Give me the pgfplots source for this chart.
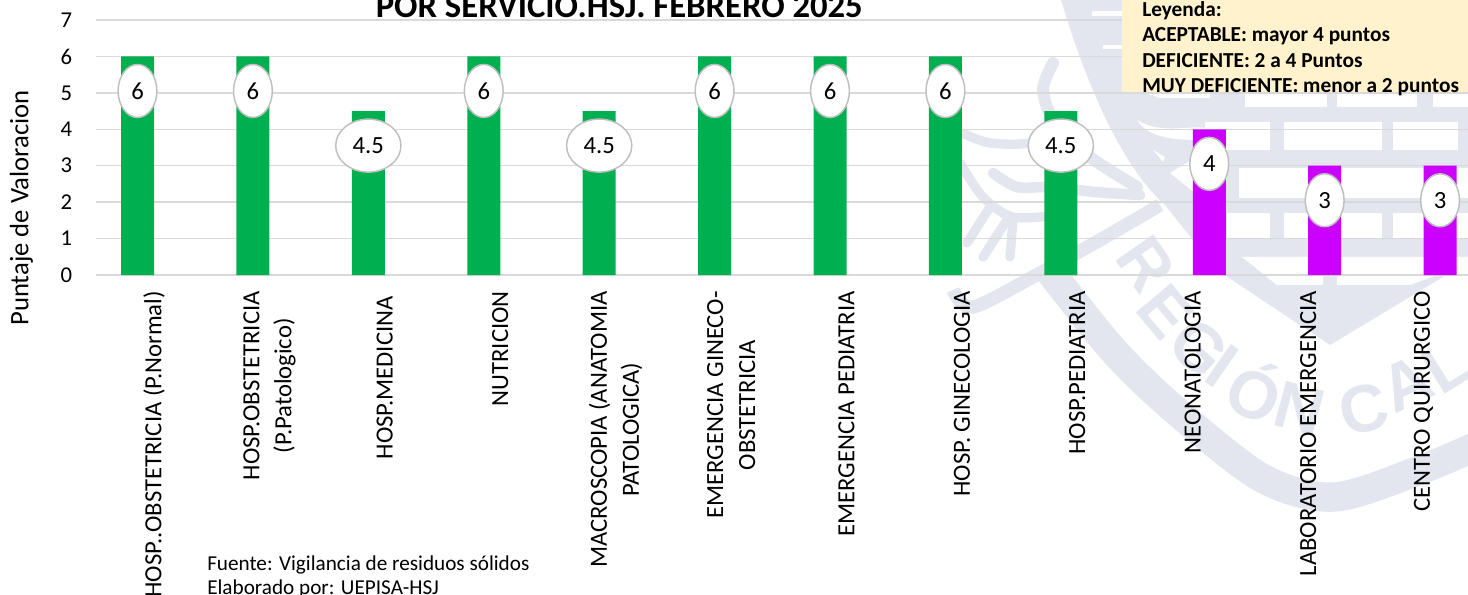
\documentclass[border=0pt]{standalone}
\usepackage{pgfplots}
\usepackage{fontspec}
\setmainfont{Carlito}
\newfontfamily\wmfont{Liberation Sans}
\pgfplotsset{compat=1.18}
\usetikzlibrary{shapes.geometric}
\definecolor{wm}{HTML}{E3E6EE}
\definecolor{gridc}{HTML}{D9D9D9}
\definecolor{barg}{HTML}{00B050}
\definecolor{barp}{HTML}{CC00FF}
\definecolor{legc}{HTML}{FFF2CC}
\begin{document}
\begin{tikzpicture}[x=0.75pt,y=-0.75pt]
\useasboundingbox (0,0) rectangle (1468,595);
\clip (0,0) rectangle (1468,595);
% watermark (decorative background)
\begin{scope}[wm]
% shield
\fill (1061,0) -- (1468,0) -- (1468,262) -- (1330,345) -- (1217,270) -- (1165,205) .. controls (1120,165) and (1085,80) .. cycle;
\begin{scope}[white]
\fill (1245,92) rectangle (1327,107);
\fill (1337,92) rectangle (1417,107);
\fill (1433,92) rectangle (1468,107);
\fill (1205,122) rectangle (1270,150);
\fill (1284,122) rectangle (1382,150);
\fill (1393,122) rectangle (1458,150);
\fill (1239,168) rectangle (1468,198);
\fill (1227,213) rectangle (1270,238);
\fill (1284,213) rectangle (1382,238);
\fill (1393,213) rectangle (1468,238);
\fill (1242,257) -- (1468,257) -- (1468,264) -- (1410,285) -- (1337,285) -- (1337,275) -- (1323,275) -- (1323,285) -- (1277,285) -- cycle;
\fill (1092,11) rectangle (1122,16);
\fill (1103,45) rectangle (1122,49);
\fill (1145,93) -- (1210,93) -- (1210,98) -- (1160,98) -- cycle;
\fill (1137,120) .. controls (1160,135) and (1190,125) .. (1205,128) -- (1205,140) .. controls (1180,140) and (1150,140) .. cycle;
\fill (1153,150) -- (1165,157) -- (1163,162) -- cycle;
\fill (1170,173) -- (1200,155) -- (1205,190) -- (1200,197) -- cycle;
\end{scope}
% wings and curl
\draw[line width=9pt,line cap=round] plot[smooth] coordinates {(1053,63) (1043,90) (1055,123) (1090,157) (1137,187)};
\draw[line width=7pt,line cap=round] plot[smooth] coordinates {(962,133) (990,143) (1030,143) (1060,130)};
\draw[line width=8pt,line cap=round] plot[smooth] coordinates {(993,173) (1017,187) (1050,187) (1095,192) (1140,195)};
\draw[line width=7pt,line cap=round] plot[smooth] coordinates {(960,163) (983,197) (1013,217) (1060,215)};
\draw[line width=7pt,line cap=round] (983,257) -- (1007,220);
\draw[line width=7pt,line cap=round] (1010,257) -- (1013,220);
\draw[line width=7pt,line cap=round] plot[smooth] coordinates {(967,243) (990,207)};
\draw[line width=10pt] plot[smooth] coordinates {(953,290) (973,307) (1040,273) (1100,240) (1160,205)};
% outer ring
\draw[line width=22pt] plot[smooth] coordinates {(1045,265) (1113,350) (1175,410) (1262,478) (1335,497) (1425,468) (1490,440)};
\wmfont\bfseries\fontsize{50}{50}\selectfont
\node[rotate=-55] at (1146,264) {R};
\node[rotate=-50] at (1165,312) {E};
\node[rotate=-42] at (1199,348) {G};
\node[rotate=-35] at (1222,366) {I};
\node[rotate=-25] at (1256,390) {Ó};
\node[rotate=-15] at (1300,409) {N};
\node[rotate=15] at (1364,409) {C};
\node[rotate=25] at (1407,384) {A};
\node[rotate=32] at (1447,366) {L};
\end{scope}
\coordinate (A) at (96.3,275);
\begin{axis}[
  at={(A)}, anchor=south west, scale only axis,
  width=1038.75pt, height=191.25pt,
  ymin=0, ymax=7, xmin=-0.5, xmax=11.5,
  ybar=0pt, bar width=24.75pt,
  xtick={0,...,11},
  xticklabels={{HOSP..OBSTETRICIA (P.Normal)},{HOSP.OBSTETRICIA\\(P.Patologico)},{HOSP.MEDICINA\hspace{3.75pt}},{NUTRICION},{MACROSCOPIA (ANATOMIA\\PATOLOGICA)},{EMERGENCIA GINECO-\\OBSTETRICIA},{EMERGENCIA PEDIATRIA},{HOSP. GINECOLOGIA},{HOSP.PEDIATRIA},{NEONATOLOGIA},{LABORATORIO EMERGENCIA},{CENTRO QUIRURGICO}},
  ytick={0,...,7},
  major tick length=0pt,
  ymajorgrids, grid style={gridc,line width=1.1pt},
  axis x line=bottom, axis y line=left,
  x axis line style={gridc,line width=1.1pt,-},
  y axis line style={draw=none},
  /pgf/number format/assume math mode=true,
  tick label style={font=\fontsize{17}{18}\selectfont,text=black},
  xticklabel style={rotate=90,anchor=east,align=center,inner sep=0pt,xshift=-12pt,font=\fontsize{18.5}{24}\selectfont},
  yticklabel style={inner sep=0pt,xshift=-18pt},
  ylabel={Puntaje de Valoracion},
  every axis y label/.style={at={(axis description cs:-0.054,0.263)},anchor=center,rotate=90,font=\fontsize{20}{22}\selectfont},
  title={\bfseries POR SERVICIO.HSJ. FEBRERO 2025},
  every axis title/.style={at={(axis description cs:0.3776,1.008)},anchor=base,font=\fontsize{26}{28}\selectfont},
  nodes near coords,
  nodes near coords style={ellipse,draw=black!25,line width=1.1pt,fill=white,text=black,anchor=center,yshift=-25.9pt,inner xsep=5.6pt,inner ysep=0pt,minimum height=39.75pt,font=\fontsize{18.5}{20}\selectfont},
]
\addplot[fill=barg,draw=none] coordinates {(0,6) (1,6) (2,4.5) (3,6) (4,4.5) (5,6) (6,6) (7,6) (8,4.5)};
\addplot[fill=barp,draw=none] coordinates {(9,4) (10,3) (11,3)};
\end{axis}
\fill[legc] (1122,-2) rectangle (1470,92);
\begin{scope}[every node/.style={anchor=base west,inner sep=0pt,font=\fontsize{16}{18}\selectfont\bfseries}]
\node at (1142,17) {Leyenda:};
\node at (1142,42) {ACEPTABLE: mayor 4 puntos};
\node at (1142,68) {DEFICIENTE: 2 a 4 Puntos};
\node at (1142,93) {MUY DEFICIENTE: menor a 2 puntos};
\end{scope}
\begin{scope}[every node/.style={anchor=base west,inner sep=0pt,font=\fontsize{15.9}{18}\selectfont}]
\node at (207,570) {Fuente: Vigilancia de residuos sólidos};
\node at (207,594) {Elaborado por: UEPISA-HSJ};
\end{scope}
\end{tikzpicture}
\end{document}
